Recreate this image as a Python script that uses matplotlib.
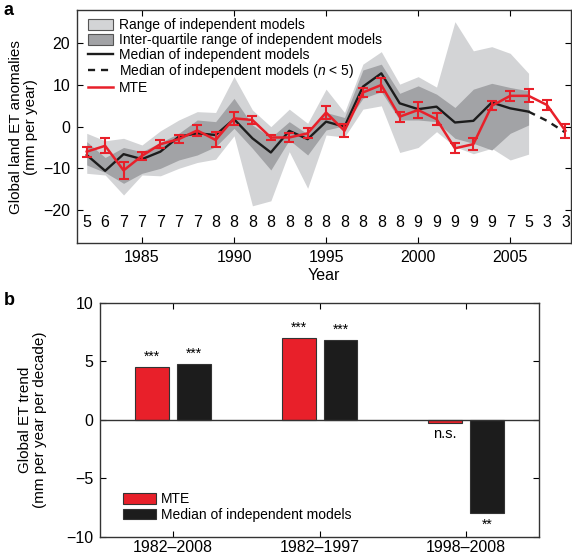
import numpy as np
import matplotlib
matplotlib.use("Agg")
import matplotlib.pyplot as plt
from matplotlib.patches import Patch
from matplotlib.lines import Line2D

plt.rcParams['font.family'] = ['Liberation Sans', 'DejaVu Sans']
plt.rcParams['mathtext.fontset'] = 'custom'
plt.rcParams['mathtext.it'] = 'Liberation Sans:italic'
plt.rcParams['mathtext.rm'] = 'Liberation Sans'

# panel a data
years = list(range(1982, 2009))
model_years = list(range(1982, 2007))
range_hi = [-1.6, -3.4, -2.8, -4.4, -1.0, 1.6, 3.6, 3.4, 12.0, 4.0, 0.0, 4.2, 0.8,
            9.0, 3.4, 15.0, 18.0, 10.2, 12.0, 9.5, 25.2, 18.2, 19.2, 17.6, 12.8]
range_lo = [-11.2, -11.6, -16.4, -11.6, -11.8, -10.0, -8.6, -7.8, -2.2, -19.0, -17.8, -6.0, -14.8,
            -2.0, -2.5, 4.2, 5.0, -6.2, -5.0, -1.2, -4.8, -6.5, -5.2, -8.0, -6.6]
iqr_hi = [-3.6, -7.4, -5.0, -6.0, -3.8, -1.6, 1.6, 1.2, 6.8, 0.4, -2.6, 1.2, -1.8,
          3.4, 2.2, 13.6, 15.0, 8.0, 9.8, 7.8, 4.6, 9.0, 10.4, 9.4, 8.6]
iqr_lo = [-9.2, -11.0, -13.6, -11.2, -10.0, -8.0, -6.8, -4.8, -0.4, -5.2, -10.4, -3.2, -6.8,
          -0.8, 0.2, 6.8, 8.4, 1.6, 1.6, 1.2, -2.8, -4.0, -5.6, -1.6, 0.4]
median = [-6.8, -10.6, -6.6, -7.8, -6.0, -2.4, -1.6, -2.0, 1.8, -2.8, -6.2, -1.0, -3.0,
          1.2, 0.0, 9.6, 12.8, 5.6, 4.2, 4.8, 1.0, 1.4, 5.8, 4.4, 3.6, 1.4, -1.4]
mte = [-6.0, -4.6, -10.5, -7.0, -4.2, -3.0, -0.9, -3.2, 2.0, 1.6, -2.6, -2.6, -1.6,
       3.4, -1.0, 8.2, 10.0, 2.4, 4.0, 1.8, -5.2, -4.2, 5.0, 7.4, 7.4, 5.2, -1.0]
mte_err = [1.2, 1.8, 2.0, 1.0, 1.0, 1.0, 1.3, 1.8, 1.5, 0.9, 0.6, 1.0, 1.2,
           1.5, 1.6, 1.0, 1.7, 1.2, 2.0, 1.5, 1.2, 1.4, 1.1, 1.2, 1.6, 1.3, 1.7]
n_models = [5, 6, 7, 7, 7, 7, 7, 8, 8, 8, 8, 8, 8, 8, 8, 8, 8, 8, 9, 9, 9, 9, 9, 7, 5, 3, 3]

# panel b data
periods = ['1982\u20132008', '1982\u20131997', '1998\u20132008']
trend_mte = [4.5, 7.0, -0.3]
trend_median = [4.8, 6.8, -8.0]
sig_mte = ['***', '***', 'n.s.']
sig_median = ['***', '***', '**']

light = '#d3d4d6'
dark = '#a2a3a6'
red = '#e8202a'
black = '#1c1c1c'

fig = plt.figure(figsize=(5.72, 5.56), dpi=100)

# ---- panel a ----
ax = fig.add_axes([0.1346, 0.5624, 0.8645, 0.4196])
ax.fill_between(model_years, range_lo, range_hi, color=light, lw=0)
ax.fill_between(model_years, iqr_lo, iqr_hi, color=dark, lw=0)
n_solid = len(model_years)
ax.plot(years[:n_solid], median[:n_solid], color=black, lw=1.7)
ax.plot(years[n_solid - 1:], median[n_solid - 1:], color=black, lw=1.7, ls=(0, (3, 2.5)))
ax.errorbar(years, mte, yerr=mte_err, color=red, lw=1.8, elinewidth=1.5,
            capsize=3.5, capthick=1.5)
for yr, n in zip(years, n_models):
    ax.text(yr, -23, str(n), ha='center', va='center', fontsize=11.5)

ax.set_xlim(1981.47, 2008.33)
ax.set_ylim(-28, 28)
ax.set_xticks([1985, 1990, 1995, 2000, 2005])
ax.set_yticks([-20, -10, 0, 10, 20])
ax.tick_params(direction='in', top=True, right=True, labelsize=11.5, length=4, pad=5)
ax.set_xlabel('Year', fontsize=11.5, labelpad=2)
ax.set_ylabel('Global land ET anomalies\n(mm per year)', fontsize=11, linespacing=1.15)
ax.yaxis.set_label_coords(-0.078, 0.5)

handles = [Patch(facecolor=light, edgecolor='#555555', lw=0.8),
           Patch(facecolor=dark, edgecolor='#555555', lw=0.8),
           Line2D([], [], color=black, lw=1.7),
           Line2D([], [], color=black, lw=1.7, ls=(0, (3, 2.5))),
           Line2D([], [], color=red, lw=1.8)]
labels = ['Range of independent models', 'Inter-quartile range of independent models',
          'Median of independent models', 'Median of independent models ($n$ < 5)', 'MTE']
ax.legend(handles, labels, loc='upper left', frameon=False, fontsize=10,
          handlelength=1.85, handleheight=0.85, labelspacing=0.05, handletextpad=0.4,
          borderaxespad=0.2, bbox_to_anchor=(0.005, 1.0))

# ---- panel b ----
bx = fig.add_axes([0.1748, 0.0347, 0.768, 0.4209])
pos = np.arange(1, len(periods) + 1)
w = 0.23
off = 0.143
bx.bar(pos - off, trend_mte, w, color=red, edgecolor='#333333', lw=0.8, label='MTE')
bx.bar(pos + off, trend_median, w, color=black, edgecolor='#333333', lw=0.8,
       label='Median of independent models')
bx.axhline(0, color='#333333', lw=1)
for x, v, s in zip(pos - off, trend_mte, sig_mte):
    if v >= 0:
        bx.text(x, v + 0.25, s, ha='center', va='bottom', fontsize=10)
    else:
        bx.text(x, v - 0.35, s, ha='center', va='top', fontsize=10.5)
for x, v, s in zip(pos + off, trend_median, sig_median):
    if v >= 0:
        bx.text(x, v + 0.25, s, ha='center', va='bottom', fontsize=10)
    else:
        bx.text(x, v - 0.4, s, ha='center', va='top', fontsize=10)

bx.set_xlim(0.5, 3.5)
bx.set_ylim(-10, 10)
bx.set_xticks(pos)
bx.set_xticklabels(periods)
bx.set_yticks([-10, -5, 0, 5, 10])
bx.tick_params(direction='in', top=True, right=True, labelsize=11.5, length=4, pad=5)
bx.tick_params(axis='x', pad=2.5)
bx.set_ylabel('Global ET trend\n(mm per year per decade)', fontsize=11, linespacing=1.15)
bx.yaxis.set_label_coords(-0.12, 0.5)
bx.legend(loc='lower left', frameon=False, fontsize=10, handlelength=2.4,
          handleheight=0.75, labelspacing=0.1, handletextpad=0.3,
          bbox_to_anchor=(0.04, 0.04), borderaxespad=0.0)

for a in (ax, bx):
    for sp in a.spines.values():
        sp.set_linewidth(1.0)
        sp.set_color('#333333')

fig.text(0.006, 0.982, 'a', fontsize=13, fontweight='bold', va='center')
fig.text(0.006, 0.459, 'b', fontsize=13, fontweight='bold', va='center')

fig.savefig('out.png', dpi=100)
